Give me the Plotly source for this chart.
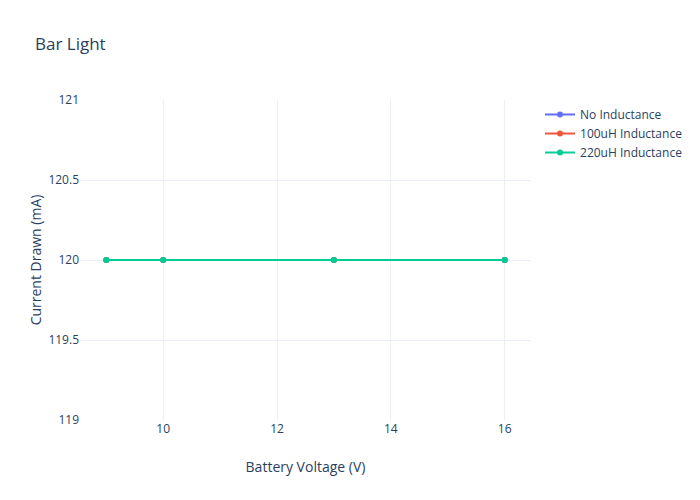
import plotly.graph_objects as go

voltage = [9, 10, 13, 16]
no_inductance = [120, 120, 120, 120]
inductance_100uh = [120, 120, 120, 120]
inductance_220uh = [120, 120, 120, 120]

fig = go.Figure()
fig.add_trace(go.Scatter(x=voltage, y=no_inductance, mode="lines+markers", name="No Inductance"))
fig.add_trace(go.Scatter(x=voltage, y=inductance_100uh, mode="lines+markers", name="100uH Inductance"))
fig.add_trace(go.Scatter(x=voltage, y=inductance_220uh, mode="lines+markers", name="220uH Inductance"))
fig.update_layout(
    title="Bar Light",
    xaxis_title="Battery Voltage (V)",
    yaxis_title="Current Drawn (mA)",
    width=700,
    height=500,
    template="plotly_white",
)
fig.update_xaxes(title_standoff=26)
fig.update_yaxes(title_standoff=3)
fig.write_html(
    "out.html",
    config={"displayModeBar": False},
    post_script="document.body.style.margin='0';document.body.style.padding='0';",
)
